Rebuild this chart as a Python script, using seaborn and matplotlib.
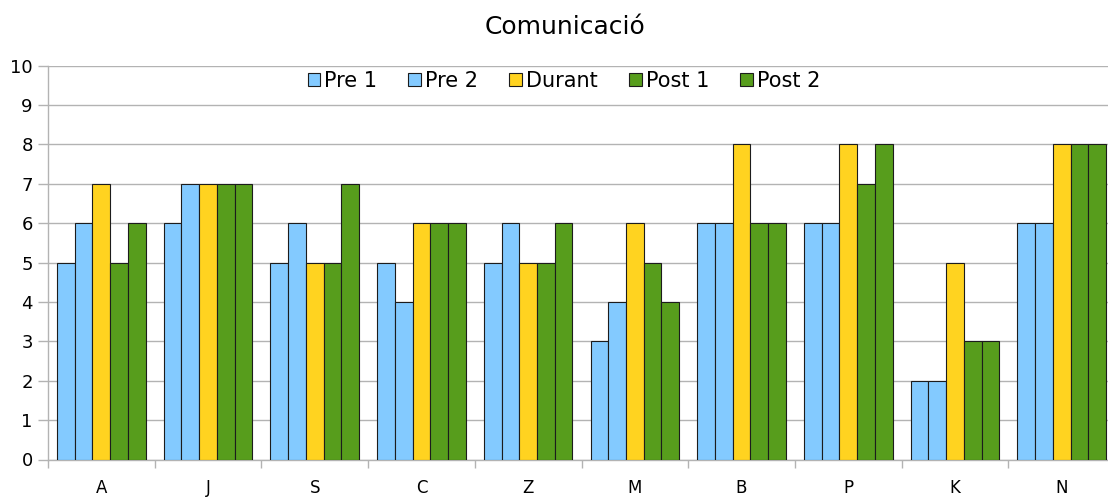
import matplotlib
matplotlib.use("Agg")
import matplotlib.pyplot as plt
import seaborn as sns
import pandas as pd
import numpy as np

categories = ["A", "J", "S", "C", "Z", "M", "B", "P", "K", "N"]
series_names = ["Pre 1", "Pre 2", "Durant", "Post 1", "Post 2"]
pre1 = [5, 6, 5, 5, 5, 3, 6, 6, 2, 6]
pre2 = [6, 7, 6, 4, 6, 4, 6, 6, 2, 6]
durant = [7, 7, 5, 6, 5, 6, 8, 8, 5, 8]
post1 = [5, 7, 5, 6, 5, 5, 6, 7, 3, 8]
post2 = [6, 7, 7, 6, 6, 4, 6, 8, 3, 8]
colors = ["#83CAFF", "#83CAFF", "#FFD320", "#579D1C", "#579D1C"]

rows = []
for name, vals in zip(series_names, [pre1, pre2, durant, post1, post2]):
    for c, v in zip(categories, vals):
        rows.append({"cat": c, "serie": name, "val": v})
df = pd.DataFrame(rows)

sns.set_style("white")
plt.rcParams["font.family"] = ["DejaVu Sans"]
plt.rcParams["text.color"] = "black"
plt.rcParams["xtick.labelcolor"] = "black"
plt.rcParams["ytick.labelcolor"] = "black"

W, H = 1108, 497
fig = plt.figure(figsize=(W / 100, H / 100), dpi=100)
left_px, right_px = 48, 1115
top_px, bot_px = 65.7, 459.5
ax = fig.add_axes([left_px / W, 1 - bot_px / H, (right_px - left_px) / W, (bot_px - top_px) / H])

sns.barplot(data=df, x="cat", y="val", hue="serie", order=categories,
            hue_order=series_names, palette=colors, width=0.83, gap=0,
            saturation=1, edgecolor="#1c1c1c", linewidth=0.8, ax=ax, zorder=3)

ax.set_ylim(0, 10)
ax.set_xlim(-0.5, len(categories) - 0.5)
ax.set_yticks(range(0, 11))
ax.set_xlabel("")
ax.set_ylabel("")
ax.grid(axis="y", color="#b3b3b3", linewidth=1, zorder=0)
ax.set_axisbelow(True)
for s in ["top", "right"]:
    ax.spines[s].set_visible(False)
for s in ["left", "bottom"]:
    ax.spines[s].set_color("#b3b3b3")
    ax.spines[s].set_linewidth(1)

ax.tick_params(axis="y", length=7, width=1, color="#b3b3b3", pad=4, labelsize=13,
               left=True, labelcolor="black")
ax.tick_params(axis="x", which="major", length=0, pad=14, labelsize=12, labelcolor="black")
ax.set_xticks(np.arange(-0.5, len(categories), 1.0), minor=True)
ax.tick_params(axis="x", which="minor", length=6, width=1, color="#b3b3b3", bottom=True)

handles, labels = ax.get_legend_handles_labels()
if ax.get_legend():
    ax.get_legend().remove()
leg = fig.legend(handles, labels, loc="center", bbox_to_anchor=(564 / W, 1 - 81 / H),
                 bbox_transform=fig.transFigure, ncol=5, frameon=False, fontsize=15,
                 handlelength=0.6, handleheight=0.6, handletextpad=0.2, columnspacing=1.5,
                 labelcolor="black")

fig.text(565 / W, 1 - 27 / H, "Comunicació", ha="center", va="center", fontsize=18, color="black")

fig.savefig("out.png", dpi=100)
